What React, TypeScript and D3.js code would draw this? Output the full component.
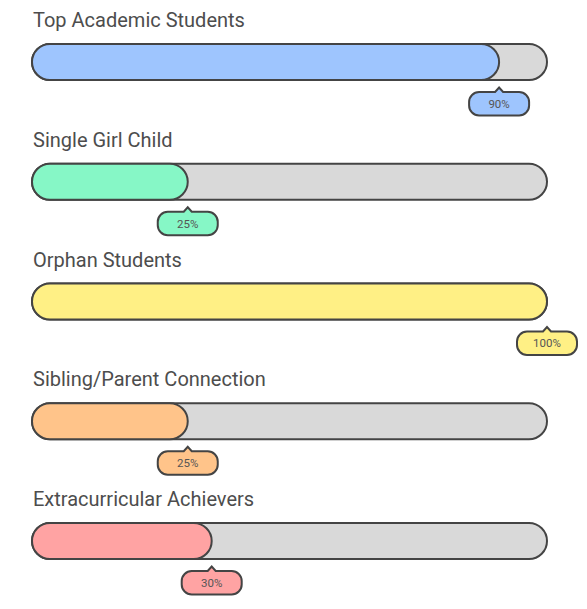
import React from "react";
import * as d3 from "d3";

const categories = [
  "Top Academic Students",
  "Single Girl Child",
  "Orphan Students",
  "Sibling/Parent Connection",
  "Extracurricular Achievers",
];
const values = [90, 25, 100, 25, 30];
const colors = ["#9ec5fe", "#86f7c6", "#fff085", "#ffc48a", "#ffa3a3"];

const W = 587;
const H = 609;
const X0 = 32;
const X1 = 547;
const BAR_H = 36;
const ROW = 119.75;

export default function App() {
  const x = d3.scaleLinear().domain([0, 100]).range([X0 + BAR_H, X1]);
  const rowY = d3.scaleLinear().domain([0, 1]).range([0, ROW]);
  const tipW = 60;
  const tipH = 23.5;
  const r = 10;
  return (
    <svg
      width={W}
      height={H}
      style={{ position: "absolute", left: 0, top: 0, background: "#fff" }}
      fontFamily="Roboto, sans-serif"
    >
      {categories.map((c, i) => {
        const y0 = rowY(i);
        const by = y0 + 44;
        const ex = x(values[i]);
        const ty = by + BAR_H + 12;
        const tip = `M${ex - tipW / 2 + r},${ty} L${ex - 4},${ty} L${ex},${ty - 4.5} L${ex + 4},${ty} L${ex + tipW / 2 - r},${ty} A${r},${r} 0 0 1 ${ex + tipW / 2},${ty + r} L${ex + tipW / 2},${ty + tipH - r} A${r},${r} 0 0 1 ${ex + tipW / 2 - r},${ty + tipH} L${ex - tipW / 2 + r},${ty + tipH} A${r},${r} 0 0 1 ${ex - tipW / 2},${ty + tipH - r} L${ex - tipW / 2},${ty + r} A${r},${r} 0 0 1 ${ex - tipW / 2 + r},${ty} Z`;
        return (
          <g key={c}>
            <text x={33} y={y0 + 27} fontSize={20} fill="#4d4d4d">
              {c}
            </text>
            <rect
              x={X0}
              y={by}
              width={X1 - X0}
              height={BAR_H}
              rx={BAR_H / 2}
              fill="#d9d9d9"
              stroke="#444"
              strokeWidth={2}
            />
            <rect
              x={X0}
              y={by}
              width={ex - X0}
              height={BAR_H}
              rx={BAR_H / 2}
              fill={colors[i]}
              stroke="#444"
              strokeWidth={2}
            />
            <path d={tip} fill={colors[i]} stroke="#444" strokeWidth={2} />
            <text
              x={ex}
              y={ty + tipH / 2 + 4}
              fontSize={11.5}
              textAnchor="middle"
              fill="#555"
            >
              {values[i]}%
            </text>
          </g>
        );
      })}
    </svg>
  );
}
